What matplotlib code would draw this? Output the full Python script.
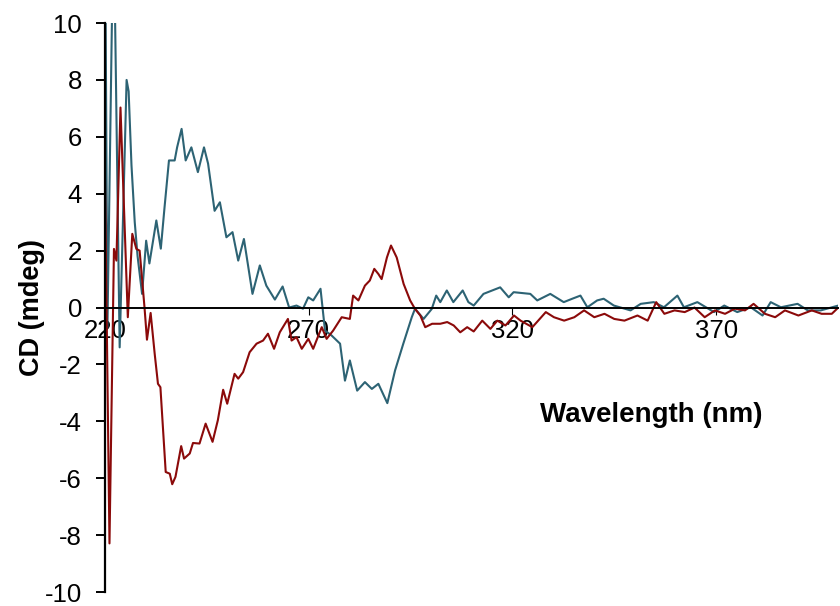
import matplotlib
matplotlib.use("Agg")
import matplotlib.pyplot as plt
import numpy as np

# CD spectra, wavelength in nm and signal in mdeg
wl_teal = [220.0, 220.6, 222.1, 223.6, 225.3, 225.8, 226.5, 227.3, 228.0, 229.1,
           230.1, 230.9, 232.6, 233.7, 234.6, 235.7, 237.1, 237.7, 238.8, 239.8,
           241.2, 242.8, 244.3, 245.3, 246.9, 248.2, 249.8, 251.3, 252.7, 254.1,
           256.2, 258.0, 259.6, 261.7, 263.6, 265.2, 267.0, 268.6, 269.9, 271.1,
           272.9, 274.0, 275.6, 277.7, 278.9, 280.1, 281.9, 283.8, 285.5, 287.1,
           289.3, 291.2, 293.2, 295.3, 296.1, 298.2, 300.2, 301.3, 302.3, 303.9,
           305.5, 307.8, 309.2, 310.5, 312.9, 317.0, 319.1, 320.3, 324.4, 326.1,
           329.3, 332.6, 334.7, 336.7, 338.4, 340.8, 342.4, 344.9, 349.0, 351.5,
           354.7, 357.2, 360.5, 362.1, 365.4, 369.5, 372.0, 375.2, 378.5, 381.4,
           383.4, 385.9, 390.0, 392.5, 395.7, 400.0]
cd_teal = [14.0, -0.7, 14.0, -1.4, 8.0, 7.6, 5.0, 3.0, 1.8, 0.48,
           2.35, 1.55, 3.06, 2.07, 3.5, 5.17, 5.17, 5.63, 6.28, 5.17,
           5.63, 4.76, 5.63, 5.06, 3.4, 3.7, 2.47, 2.65, 1.65, 2.41,
           0.48, 1.48, 0.77, 0.28, 0.74, 0.0, 0.07, -0.04, 0.36, 0.25,
           0.66, -0.81, -0.98, -1.27, -2.57, -1.86, -2.92, -2.62, -2.86, -2.68,
           -3.36, -2.21, -1.28, -0.34, -0.04, -0.4, -0.05, 0.42, 0.19, 0.6,
           0.19, 0.6, 0.19, 0.07, 0.48, 0.71, 0.36, 0.54, 0.48, 0.25,
           0.48, 0.19, 0.31, 0.42, 0.01, 0.25, 0.31, 0.07, -0.1, 0.13,
           0.19, 0.01, 0.42, 0.01, 0.19, -0.16, 0.07, -0.16, 0.01, -0.28,
           0.19, 0.01, 0.13, -0.1, -0.1, 0.07]

wl_red = [220.0, 221.1, 222.2, 222.8, 223.8, 225.6, 226.7, 227.7, 228.5, 229.7,
          230.3, 231.2, 232.2, 233.0, 233.6, 234.9, 235.9, 236.5, 237.3, 238.7,
          239.4, 240.8, 241.6, 243.2, 244.7, 246.4, 247.7, 249.0, 250.0, 251.8,
          252.7, 253.9, 255.5, 257.2, 258.8, 260.0, 261.5, 262.9, 264.9, 265.8,
          267.0, 268.3, 269.9, 271.1, 273.2, 274.4, 276.0, 278.1, 280.1, 280.9,
          282.2, 283.8, 285.0, 286.1, 287.1, 287.9, 289.2, 290.2, 291.6, 293.3,
          294.9, 296.1, 297.4, 298.6, 300.3, 302.3, 304.0, 305.6, 307.2, 308.9,
          310.5, 312.6, 314.6, 316.3, 318.3, 320.4, 322.0, 324.9, 328.2, 330.2,
          332.7, 335.2, 337.6, 340.1, 342.6, 345.0, 347.5, 350.7, 353.2, 355.3,
          357.3, 359.8, 362.3, 364.7, 367.2, 369.7, 372.2, 374.6, 377.1, 379.2,
          382.0, 384.5, 386.9, 390.2, 393.5, 395.9, 398.4, 400.0]
cd_red = [4.46, -8.29, 2.06, 1.65, 7.03, -0.34, 2.59, 2.06, 2.0, 0.0,
          -1.13, -0.19, -1.63, -2.68, -2.8, -5.78, -5.84, -6.21, -5.95, -4.87,
          -5.31, -5.13, -4.76, -4.78, -4.08, -4.72, -3.96, -2.89, -3.38, -2.33,
          -2.5, -2.27, -1.57, -1.27, -1.16, -0.92, -1.45, -0.87, -0.4, -1.16,
          -1.04, -1.45, -1.1, -1.45, -0.69, -1.1, -0.81, -0.34, -0.4, 0.42,
          0.25, 0.77, 0.95, 1.36, 1.18, 1.0, 1.76, 2.18, 1.76, 0.83,
          0.25, -0.05, -0.28, -0.69, -0.57, -0.57, -0.51, -0.63, -0.87, -0.69,
          -0.84, -0.46, -0.75, -0.46, -0.63, -0.28, -0.46, -0.69, -0.16, -0.34,
          -0.46, -0.34, -0.1, -0.34, -0.22, -0.4, -0.46, -0.28, -0.46, 0.19,
          -0.22, -0.1, -0.16, 0.0, -0.34, -0.1, -0.22, -0.04, -0.1, 0.13,
          -0.22, -0.34, -0.1, -0.28, -0.1, -0.22, -0.22, 0.0]

x_ticks = [220, 270, 320, 370]
y_ticks = np.arange(-10, 11, 2)

plt.rcParams["font.family"] = ["Liberation Sans", "DejaVu Sans"]
plt.rcParams["axes.unicode_minus"] = False

fig = plt.figure(figsize=(8.4, 6.06), dpi=100)
ax = fig.add_axes([0.125, 0.023, 0.873, 0.939])

ax.plot(wl_teal, cd_teal, color="#2D6374", linewidth=1.5)
ax.plot(wl_red, cd_red, color="#8B0A0A", linewidth=1.5)

ax.set_xlim(220, 400)
ax.set_ylim(-10, 10)

# x axis runs through zero, y axis sits at the left edge
ax.spines["bottom"].set_position(("data", 0))
ax.spines["top"].set_visible(False)
ax.spines["right"].set_visible(False)
ax.spines["bottom"].set_linewidth(1.4)
ax.spines["left"].set_linewidth(1.6)

ax.set_xticks(x_ticks)
ax.set_yticks(y_ticks)
ax.tick_params(axis="x", direction="out", length=5, width=0.8, pad=3, labelsize=18.5)
ax.tick_params(axis="y", direction="out", length=6.5, width=1.4, pad=10, labelsize=18.5)

ax.set_ylabel("CD (mdeg)", fontsize=19.5, fontweight="bold")
ax.yaxis.set_label_coords(-0.082, 0.5)
ax.text(0.745, 0.311, "Wavelength (nm)", transform=ax.transAxes,
        fontsize=20, fontweight="bold", ha="center", va="center")

fig.savefig("out.png", dpi=100)
